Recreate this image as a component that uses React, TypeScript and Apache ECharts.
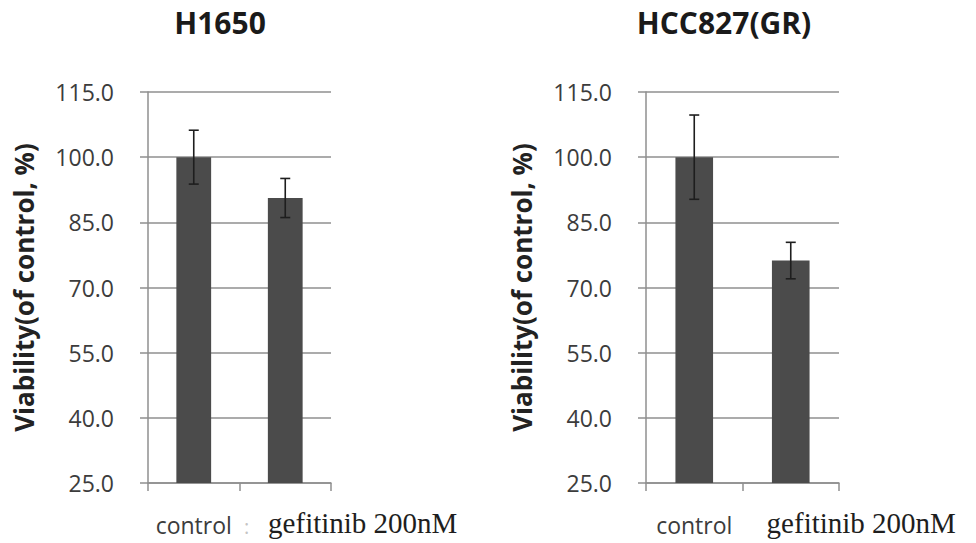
import { useEffect, useRef } from "react";
import * as echarts from "echarts";

// Cell viability after gefitinib treatment, two cell lines
const categories = ["control", "gefitinib 200nM"];
const panelTitles = ["H1650", "HCC827(GR)"];
const h1650Means = [100.0, 90.6];
const h1650Errors = [6.2, 4.5];
const hcc827Means = [100.0, 76.2];
const hcc827Errors = [9.7, 4.2];
const yMin = 25;
const yMax = 115;
const yStep = 15;
const yAxisTitle = "Viability(of control, %)";
const strayMark = ":";

const BAR_COLOR = "#4b4b4b";
const GRID_COLOR = "#8f8f8f";
const LABEL_COLOR = "#3c3c3c";

function errorData(means: number[], errs: number[]) {
  return means.map((m, i) => [i, m - errs[i], m + errs[i]]);
}

function errorRender(params: any, api: any) {
  const lo = api.coord([api.value(0), api.value(1)]);
  const hi = api.coord([api.value(0), api.value(2)]);
  const half = 5;
  const style = { stroke: "#1e1e1e", lineWidth: 1.6 };
  return {
    type: "group",
    children: [
      { type: "line", shape: { x1: hi[0], y1: hi[1], x2: lo[0], y2: lo[1] }, style },
      { type: "line", shape: { x1: hi[0] - half, y1: hi[1], x2: hi[0] + half, y2: hi[1] }, style },
      { type: "line", shape: { x1: lo[0] - half, y1: lo[1], x2: lo[0] + half, y2: lo[1] }, style },
    ],
  };
}

function xAxisFor(gridIndex: number, pad: number) {
  return {
    type: "category",
    gridIndex,
    data: [
      { value: categories[0], textStyle: { fontFamily: "Open Sans", fontSize: 23, color: LABEL_COLOR } },
      {
        value: categories[1],
        textStyle: {
          fontFamily: "Liberation Serif",
          fontSize: 29,
          lineHeight: 20,
          color: "#1e1e1e",
          padding: [0, 0, 0, pad],
        },
      },
    ],
    boundaryGap: true,
    axisLine: { show: true, lineStyle: { color: GRID_COLOR, width: 1.5 } },
    axisTick: { show: true, length: 8, inside: false, lineStyle: { color: GRID_COLOR, width: 1.5 } },
    axisLabel: { interval: 0, margin: 30, verticalAlign: "top" },
    splitLine: { show: false },
  };
}

function yAxisFor(gridIndex: number) {
  return {
    type: "value",
    gridIndex,
    min: yMin,
    max: yMax,
    interval: yStep,
    axisLine: { show: true, lineStyle: { color: GRID_COLOR, width: 1.5 } },
    axisTick: { show: true, length: 8, inside: false, lineStyle: { color: GRID_COLOR, width: 1.5 } },
    splitLine: { show: true, lineStyle: { color: GRID_COLOR, width: 1.5 } },
    axisLabel: {
      formatter: (v: number) => v.toFixed(1),
      fontFamily: "Open Sans",
      fontSize: 23,
      color: LABEL_COLOR,
      margin: 34,
    },
    name: yAxisTitle,
    nameLocation: "middle",
    nameRotate: 90,
    nameGap: 111,
    nameTextStyle: {
      fontFamily: "Open Sans",
      fontWeight: "bold",
      fontSize: 26,
      color: "#222222",
    },
  };
}

export default function App() {
  const ref = useRef<HTMLDivElement>(null);

  useEffect(() => {
    if (!ref.current) return;
    const chart = echarts.init(ref.current, null, { renderer: "svg" });
    chart.setOption({
      animation: false,
      backgroundColor: "#ffffff",
      title: [
        {
          text: panelTitles[0],
          left: 215,
          top: 2,
          textAlign: "center",
          textStyle: { fontFamily: "Open Sans", fontWeight: "bold", fontSize: 30, color: "#1a1a1a" },
        },
        {
          text: panelTitles[1],
          left: 719,
          top: 2,
          textAlign: "center",
          textStyle: { fontFamily: "Open Sans", fontWeight: "bold", fontSize: 30, color: "#1a1a1a" },
        },
      ],
      grid: [
        { left: 148, top: 92, width: 183, height: 391 },
        { left: 646, top: 92, width: 193, height: 391 },
      ],
      xAxis: [xAxisFor(0, 155), xAxisFor(1, 141)],
      yAxis: [yAxisFor(0), yAxisFor(1)],
      series: [
        {
          type: "bar",
          xAxisIndex: 0,
          yAxisIndex: 0,
          data: h1650Means,
          barWidth: "38%",
          itemStyle: { color: BAR_COLOR },
        },
        {
          type: "custom",
          xAxisIndex: 0,
          yAxisIndex: 0,
          data: errorData(h1650Means, h1650Errors),
          renderItem: errorRender,
          z: 5,
        },
        {
          type: "bar",
          xAxisIndex: 1,
          yAxisIndex: 1,
          data: hcc827Means,
          barWidth: "39%",
          itemStyle: { color: BAR_COLOR },
        },
        {
          type: "custom",
          xAxisIndex: 1,
          yAxisIndex: 1,
          data: errorData(hcc827Means, hcc827Errors),
          renderItem: errorRender,
          z: 5,
        },
      ],
      graphic: [
        {
          type: "text",
          left: 244,
          top: 516,
          style: { text: strayMark, fontSize: 20, fill: "#c4c4c4", fontFamily: "Open Sans" },
        },
      ],
    });
    return () => chart.dispose();
  }, []);

  return (
    <div
      ref={ref}
      style={{ position: "fixed", left: 0, top: 0, width: 976, height: 543 }}
    />
  );
}
